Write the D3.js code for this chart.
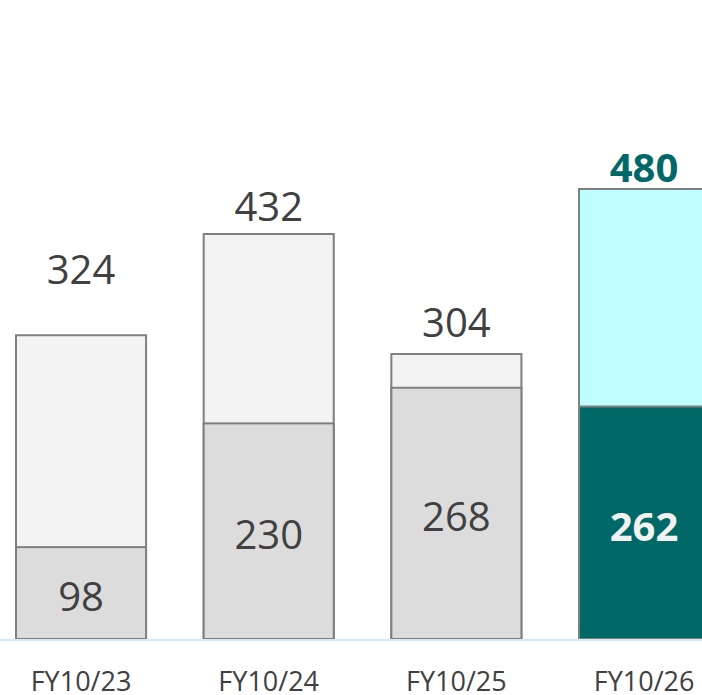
<!DOCTYPE html>
<html>
  <head>
    <meta charset="utf-8">
    <title>FY10 stacked bars</title>
    <script src="https://d3js.org/d3.v7.min.js"></script>
    <style>
      body { margin: 0; background: #fff; }
      text { font-family: "Open Sans", "Noto Sans", sans-serif; }
    </style>
  </head>
  <body>
    <div id="chart"></div>
    <script>
      // data
      var years = ["FY10/23", "FY10/24", "FY10/25", "FY10/26"];
      var totals = [324, 432, 304, 480];
      var lower = [98, 230, 268, 248];          // drawn height of the lower part
      var lowerLabels = ["98", "230", "268", "262"];
      var totalLabels = ["324", "432", "304", "480"];

      // layout only
      var totalLabelGap = [51, 13, 17, 7];

      var width = 702, height = 695;
      var baseY = 639;

      var svg = d3.select("#chart")
        .append("svg")
        .attr("width", width)
        .attr("height", height);

      var x = d3.scaleBand()
        .domain(years)
        .range([-12.8, 737.9])
        .paddingInner(0.307)
        .paddingOuter(0.1535);

      var y = d3.scaleLinear()
        .domain([0, 480])
        .range([baseY, 189]);

      var rows = years.map(function(d, i) {
        return { year: d, total: totals[i], lower: lower[i], i: i, hi: i === 3 };
      });

      // upper part (whole bar)
      svg.selectAll("rect.upper")
        .data(rows)
        .enter()
        .append("rect")
        .attr("class", "upper")
        .attr("x", function(d) { return x(d.year); })
        .attr("y", function(d) { return y(d.total); })
        .attr("width", x.bandwidth())
        .attr("height", function(d) { return y(0) - y(d.total); })
        .attr("fill", function(d) { return d.hi ? "#c0ffff" : "#f3f3f3"; })
        .attr("stroke", "#7f7f7f")
        .attr("stroke-width", 2);

      // lower part
      svg.selectAll("rect.lower")
        .data(rows)
        .enter()
        .append("rect")
        .attr("class", "lower")
        .attr("x", function(d) { return x(d.year); })
        .attr("y", function(d) { return y(d.lower); })
        .attr("width", x.bandwidth())
        .attr("height", function(d) { return y(0) - y(d.lower); })
        .attr("fill", function(d) { return d.hi ? "#006967" : "#dcdcdc"; })
        .attr("stroke", "#7f7f7f")
        .attr("stroke-width", 2);

      // baseline
      svg.append("line")
        .attr("x1", 0)
        .attr("x2", width)
        .attr("y1", baseY + 1)
        .attr("y2", baseY + 1)
        .attr("stroke", "#cdeefa")
        .attr("stroke-width", 2);

      // total labels
      svg.selectAll("text.total")
        .data(rows)
        .enter()
        .append("text")
        .attr("class", "total")
        .attr("x", function(d) { return x(d.year) + x.bandwidth() / 2; })
        .attr("y", function(d) { return y(d.total) - totalLabelGap[d.i]; })
        .attr("text-anchor", "middle")
        .attr("font-size", "40px")
        .attr("font-weight", function(d) { return d.hi ? "bold" : "normal"; })
        .attr("fill", function(d) { return d.hi ? "#006967" : "#404040"; })
        .text(function(d) { return totalLabels[d.i]; });

      // lower labels
      svg.selectAll("text.lower")
        .data(rows)
        .enter()
        .append("text")
        .attr("class", "lower")
        .attr("x", function(d) { return x(d.year) + x.bandwidth() / 2; })
        .attr("y", function(d) { return (y(d.lower) + y(0)) / 2 + 18; })
        .attr("text-anchor", "middle")
        .attr("font-size", "40px")
        .attr("font-weight", function(d) { return d.hi ? "bold" : "normal"; })
        .attr("fill", function(d) { return d.hi ? "#f2f2f2" : "#404040"; })
        .text(function(d) { return lowerLabels[d.i]; });

      // category labels
      svg.selectAll("text.cat")
        .data(years)
        .enter()
        .append("text")
        .attr("class", "cat")
        .attr("x", function(d) { return x(d) + x.bandwidth() / 2; })
        .attr("y", baseY + 52)
        .attr("text-anchor", "middle")
        .attr("font-size", "27px")
        .attr("fill", "#404040")
        .text(function(d) { return d; });
    </script>
  </body>
</html>
